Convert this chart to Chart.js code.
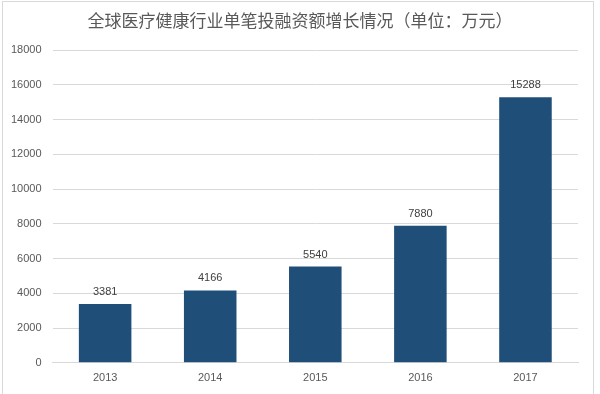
<!DOCTYPE html>
<html>
<head>
<meta charset="utf-8">
<script src="https://cdn.jsdelivr.net/npm/chart.js@4/dist/chart.umd.min.js"></script>
<style>
body { margin: 0; background: #fff; }
#wrap { position: relative; width: 600px; height: 394px; overflow: hidden; }
#frame { position: absolute; left: 2px; top: 1px; width: 590px; height: 420px; border: 1px solid #d9d9d9; pointer-events: none; }
canvas { position: absolute; left: 0; top: 0; }
</style>
</head>
<body>
<div id="wrap">
<canvas id="myChart" width="600" height="394"></canvas>
<div id="frame"></div>
</div>
<script>
// data
const years = ['2013', '2014', '2015', '2016', '2017'];
const amounts = [3381, 4166, 5540, 7880, 15288];
const yTicks = [0, 2000, 4000, 6000, 8000, 10000, 12000, 14000, 16000, 18000];
const title = '全球医疗健康行业单笔投融资额增长情况（单位：万元）';

const ctx = document.getElementById('myChart').getContext('2d');

// draws the number above each bar, and the title
const barLabels = {
    id: 'barLabels',
    afterDatasetsDraw(chart) {
        let c = chart.ctx;
        let meta = chart.getDatasetMeta(0);
        c.save();
        c.font = '11px "Liberation Sans", Arial, sans-serif';
        c.fillStyle = '#404040';
        c.textAlign = 'center';
        c.textBaseline = 'middle';
        meta.data.forEach((bar, i) => {
            c.fillText(String(amounts[i]), bar.x, bar.y - 12);
        });
        c.font = '17px "Noto Sans CJK SC", sans-serif';
        c.fillStyle = '#595959';
        c.fillText(title, 300, 21);
        c.restore();
    }
};

let obj = {
    type: 'bar',
    data: {
        labels: years,
        datasets: [
            {
            label: '单笔投融资额',
            data: amounts,
            backgroundColor: '#1f4e79',
            barPercentage: 0.5,
            categoryPercentage: 1.0
            }
        ]
    },
    options: {
        responsive: false,
        animation: false,
        layout: { padding: { left: 0, right: 22, top: 50, bottom: 0 } },
        plugins: {
            legend: { display: false },
            tooltip: { enabled: false },
            title: { display: false }
        },
        scales: {
            x: {
                grid: { display: false, drawTicks: false },
                border: { color: '#d9d9d9' },
                ticks: {
                    color: '#595959',
                    padding: 9,
                    font: { family: '"Liberation Sans", Arial, sans-serif', size: 11 }
                }
            },
            y: {
                min: 0,
                max: yTicks[yTicks.length - 1],
                afterBuildTicks: axis => { axis.ticks = yTicks.map(v => ({ value: v })); },
                grid: { color: '#d9d9d9', drawTicks: false },
                border: { display: false },
                ticks: {
                    color: '#595959',
                    padding: 11,
                    callback: v => String(v),
                    font: { family: '"Liberation Sans", Arial, sans-serif', size: 11 }
                }
            }
        }
    },
    plugins: [barLabels]
};
let myChart = new Chart(ctx, obj);
</script>
</body>
</html>
